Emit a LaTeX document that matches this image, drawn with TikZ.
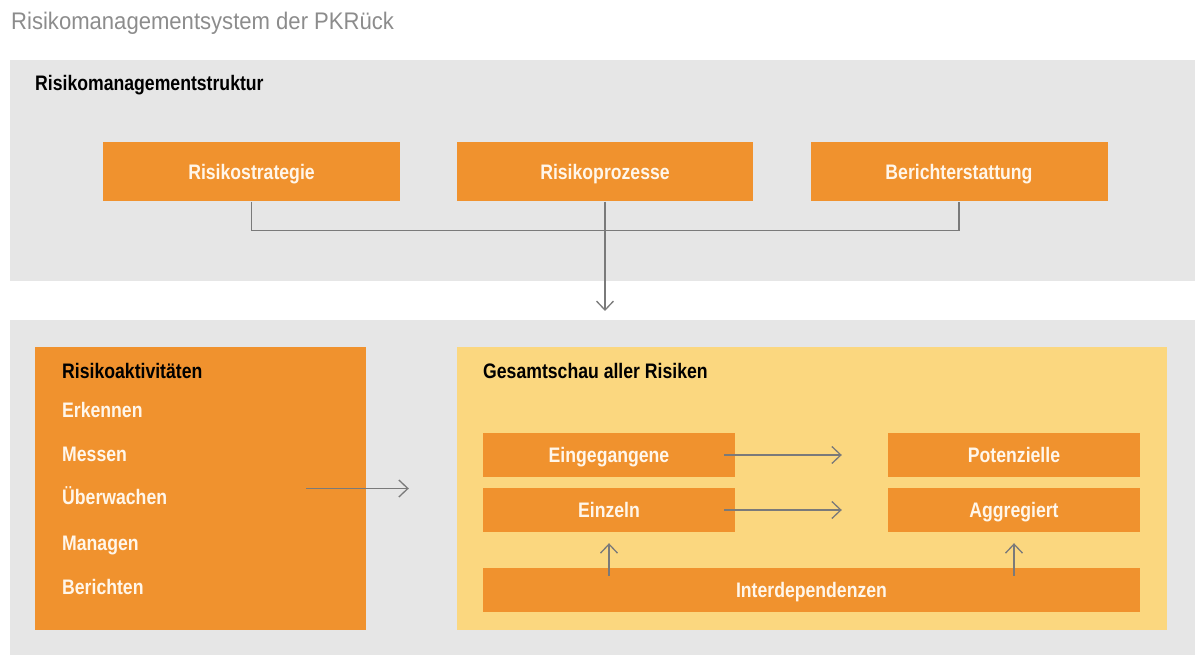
\documentclass[tikz,border=0pt]{standalone}
\usepackage{fontspec}
\setmainfont{Liberation Sans}[FakeStretch=0.84]
\newfontfamily\titlefont{Liberation Sans}[FakeStretch=0.92]
\usetikzlibrary{arrows.meta}
\definecolor{panelgray}{HTML}{E6E6E6}
\definecolor{orangebox}{HTML}{F0922E}
\definecolor{yellowbox}{HTML}{FBD77F}
\definecolor{linegray}{HTML}{7A7A7A}
\definecolor{titlegray}{HTML}{8C8C8C}
\definecolor{boxtext}{HTML}{FFF6EA}
\begin{document}
\begin{tikzpicture}[x=1pt,y=-1pt,
  lbl/.style={font=\fontsize{21}{24}\selectfont\bfseries},
  panel/.style={fill=panelgray, draw=none, inner sep=0pt},
  obox/.style={fill=orangebox, draw=none, inner sep=0pt, text=boxtext, lbl,
    text height=15pt, text depth=0pt},
  head/.style={lbl, text=black, anchor=base west, inner sep=0pt},
  item/.style={lbl, text=boxtext, anchor=base west, inner sep=0pt},
  conn/.style={draw=linegray, line width=1.3pt},
  arr/.style={conn, -{Straight Barb[length=9pt,width=17pt,line width=1.3pt]}}
]
\useasboundingbox (0,0) rectangle (1195,655);
% title
\node[anchor=base west, inner sep=0pt, text=titlegray,
      font=\titlefont\fontsize{24}{28}\selectfont] (title) at (11,30)
      {Risikomanagementsystem der PKRück};
% panels
\node[panel, minimum width=1185pt, minimum height=221pt] (toppanel) at (602.5,170.5) {};
\node[panel, minimum width=1185pt, minimum height=335pt] (botpanel) at (602.5,487.5) {};
% top structure
\node[head] (struktur) at (35,91) {Risikomanagementstruktur};
\node[obox, minimum width=297pt, minimum height=59pt] (strat) at (251.5,172) {Risikostrategie};
\node[obox, minimum width=296pt, minimum height=59pt] (proz) at (605,172) {Risikoprozesse};
\node[obox, minimum width=297pt, minimum height=59pt] (ber) at (959,172) {Berichterstattung};
\draw[conn] (strat.south) -- ++(0,29) -| (ber.south);
\coordinate (tip) at (605,311);
\draw[arr] (proz.south) -- (tip);
% bottom: activities
\node[fill=orangebox, draw=none, inner sep=0pt, minimum width=331pt, minimum height=283pt] (act) at (200.5,488.5) {};
\node[head] (akt) at (62,378) {Risikoaktivitäten};
\node[item] (i1) at (62,417) {Erkennen};
\node[item] (i2) at (62,461) {Messen};
\node[item] (i3) at (62,504) {Überwachen};
\node[item] (i4) at (62,550) {Managen};
\node[item] (i5) at (62,594) {Berichten};
% overall view
\node[fill=yellowbox, draw=none, inner sep=0pt, minimum width=710pt, minimum height=283pt] (ges) at (812,488.5) {};
\node[head] (gesamt) at (483,378) {Gesamtschau aller Risiken};
\node[obox, minimum width=252pt, minimum height=44pt] (eing) at (609,455) {Eingegangene};
\node[obox, minimum width=252pt, minimum height=44pt] (einz) at (609,510) {Einzeln};
\node[obox, minimum width=252pt, minimum height=44pt] (pot) at (1014,455) {Potenzielle};
\node[obox, minimum width=252pt, minimum height=44pt] (aggr) at (1014,510) {Aggregiert};
\node[obox, minimum width=657pt, minimum height=44pt] (inter) at (811.5,590) {Interdependenzen};
% arrows
\draw[arr] ([xshift=-60pt]act.east) -- ([xshift=-48pt]ges.west);
\draw[arr] ([xshift=-11pt]eing.east) -- ([xshift=-46pt]pot.west);
\draw[arr] ([xshift=-11pt]einz.east) -- ([xshift=-46pt]aggr.west);
\draw[arr] ([yshift=-8pt]einz.south |- inter.north) -- ([yshift=-11pt]einz.south);
\draw[arr] ([yshift=-8pt]aggr.south |- inter.north) -- ([yshift=-11pt]aggr.south);
\end{tikzpicture}
\end{document}
